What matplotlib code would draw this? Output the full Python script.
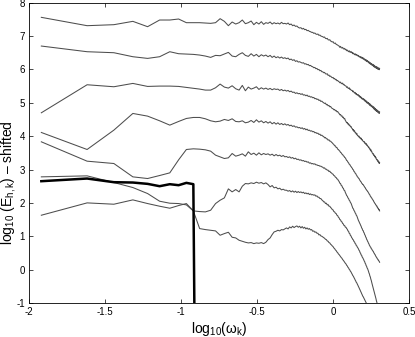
import numpy as np
import matplotlib
matplotlib.use('Agg')
import matplotlib.pyplot as plt

plt.rcParams['font.family'] = ['Liberation Sans', 'DejaVu Sans']
plt.rcParams['mathtext.fontset'] = 'custom'
plt.rcParams['mathtext.rm'] = 'Liberation Sans'
plt.rcParams['mathtext.it'] = 'Liberation Sans'
plt.rcParams['mathtext.default'] = 'regular'
plt.rcParams['axes.unicode_minus'] = False

# frequency grid: omega_k = k * d_omega, k = 1..168
d_omega = 0.012
k = np.arange(1, 169)

line1 = [7.56, 7.31, 7.34, 7.44, 7.28, 7.48, 7.48, 7.51, 7.40, 7.40,
         7.40, 7.39, 7.38, 7.40, 7.52, 7.44, 7.31, 7.42, 7.36, 7.40,
         7.48, 7.37, 7.40, 7.45, 7.34, 7.41, 7.36, 7.43, 7.35, 7.40,
         7.38, 7.42, 7.36, 7.40, 7.37, 7.39, 7.36, 7.41, 7.37, 7.38,
         7.36, 7.39, 7.34, 7.36, 7.31, 7.33, 7.29, 7.30, 7.26, 7.24,
         7.25, 7.21, 7.23, 7.19, 7.20, 7.16, 7.17, 7.14, 7.13, 7.11,
         7.11, 7.08, 7.09, 7.06, 7.05, 7.06, 7.02, 7.03, 7.00, 6.99,
         6.98, 6.96, 6.97, 6.93, 6.92, 6.93, 6.89, 6.88, 6.89, 6.85,
         6.84, 6.82, 6.83, 6.79, 6.78, 6.79, 6.75, 6.74, 6.73, 6.71,
         6.70, 6.66, 6.69, 6.65, 6.64, 6.66, 6.62, 6.61, 6.63, 6.59,
         6.60, 6.56, 6.58, 6.55, 6.53, 6.56, 6.52, 6.51, 6.54, 6.50,
         6.51, 6.47, 6.49, 6.46, 6.44, 6.47, 6.43, 6.45, 6.42, 6.43,
         6.40, 6.42, 6.38, 6.39, 6.36, 6.38, 6.34, 6.37, 6.33, 6.35,
         6.31, 6.34, 6.29, 6.31, 6.27, 6.30, 6.25, 6.28, 6.23, 6.26,
         6.22, 6.24, 6.19, 6.22, 6.17, 6.20, 6.15, 6.18, 6.13, 6.16,
         6.12, 6.15, 6.09, 6.13, 6.07, 6.11, 6.06, 6.09, 6.04, 6.08,
         6.03, 6.07, 6.01, 6.05, 6.00, 6.04, 5.99, 6.03]

line2 = [6.70, 6.53, 6.50, 6.38, 6.33, 6.38, 6.53, 6.47, 6.46, 6.45,
         6.43, 6.40, 6.36, 6.42, 6.41, 6.46, 6.51, 6.40, 6.38, 6.45,
         6.50, 6.42, 6.39, 6.47, 6.40, 6.45, 6.38, 6.44, 6.40, 6.43,
         6.38, 6.42, 6.36, 6.40, 6.35, 6.38, 6.34, 6.37, 6.33, 6.35,
         6.32, 6.34, 6.29, 6.31, 6.27, 6.29, 6.24, 6.26, 6.22, 6.23,
         6.21, 6.19, 6.20, 6.16, 6.17, 6.14, 6.15, 6.11, 6.12, 6.09,
         6.08, 6.05, 6.06, 6.02, 6.03, 5.99, 6.00, 5.96, 5.97, 5.93,
         5.93, 5.90, 5.91, 5.87, 5.86, 5.87, 5.82, 5.83, 5.79, 5.80,
         5.77, 5.75, 5.76, 5.72, 5.73, 5.69, 5.70, 5.66, 5.67, 5.64,
         5.63, 5.60, 5.62, 5.58, 5.57, 5.59, 5.54, 5.55, 5.52, 5.51,
         5.50, 5.46, 5.48, 5.44, 5.43, 5.45, 5.40, 5.41, 5.38, 5.37,
         5.37, 5.33, 5.35, 5.31, 5.29, 5.31, 5.26, 5.28, 5.24, 5.25,
         5.22, 5.24, 5.19, 5.21, 5.16, 5.19, 5.14, 5.16, 5.11, 5.13,
         5.10, 5.12, 5.07, 5.10, 5.04, 5.07, 5.02, 5.05, 4.99, 5.02,
         4.98, 5.01, 4.95, 4.98, 4.92, 4.96, 4.90, 4.93, 4.88, 4.91,
         4.86, 4.89, 4.83, 4.87, 4.80, 4.84, 4.78, 4.82, 4.76, 4.80,
         4.74, 4.78, 4.72, 4.76, 4.70, 4.74, 4.68, 4.72]

line3 = [4.70, 5.54, 5.48, 5.58, 5.49, 5.50, 5.50, 5.49, 5.46, 5.43,
         5.41, 5.38, 5.38, 5.45, 5.56, 5.47, 5.44, 5.51, 5.42, 5.38,
         5.52, 5.36, 5.47, 5.41, 5.44, 5.48, 5.40, 5.45, 5.41, 5.44,
         5.40, 5.43, 5.39, 5.42, 5.40, 5.41, 5.37, 5.40, 5.36, 5.38,
         5.35, 5.37, 5.33, 5.35, 5.31, 5.32, 5.28, 5.30, 5.27, 5.28,
         5.25, 5.27, 5.23, 5.24, 5.21, 5.23, 5.19, 5.20, 5.17, 5.18,
         5.15, 5.16, 5.12, 5.13, 5.10, 5.11, 5.07, 5.08, 5.04, 5.05,
         5.02, 5.00, 4.98, 4.99, 4.94, 4.95, 4.91, 4.92, 4.88, 4.89,
         4.85, 4.83, 4.82, 4.79, 4.80, 4.76, 4.77, 4.73, 4.74, 4.70,
         4.68, 4.64, 4.65, 4.60, 4.61, 4.56, 4.57, 4.52, 4.53, 4.47,
         4.44, 4.40, 4.41, 4.36, 4.37, 4.32, 4.33, 4.28, 4.29, 4.24,
         4.23, 4.18, 4.20, 4.14, 4.16, 4.10, 4.11, 4.06, 4.08, 4.02,
         4.02, 3.98, 4.00, 3.95, 3.96, 3.92, 3.94, 3.89, 3.90, 3.86,
         3.85, 3.83, 3.84, 3.79, 3.80, 3.76, 3.78, 3.73, 3.74, 3.70,
         3.70, 3.66, 3.67, 3.62, 3.63, 3.58, 3.60, 3.54, 3.55, 3.50,
         3.49, 3.46, 3.47, 3.42, 3.43, 3.38, 3.40, 3.35, 3.36, 3.31,
         3.29, 3.30, 3.25, 3.27, 3.22, 3.24, 3.18, 3.20]

line4 = [4.11, 3.60, 4.18, 4.68, 4.60, 4.46, 4.33, 4.44, 4.53, 4.56,
         4.56, 4.52, 4.46, 4.43, 4.45, 4.50, 4.47, 4.52, 4.44, 4.43,
         4.46, 4.40, 4.42, 4.47, 4.41, 4.49, 4.42, 4.46, 4.40, 4.44,
         4.39, 4.43, 4.37, 4.41, 4.36, 4.40, 4.35, 4.38, 4.34, 4.37,
         4.33, 4.35, 4.31, 4.33, 4.29, 4.31, 4.27, 4.28, 4.25, 4.26,
         4.23, 4.25, 4.21, 4.23, 4.19, 4.21, 4.17, 4.18, 4.15, 4.16,
         4.13, 4.14, 4.10, 4.11, 4.08, 4.09, 4.05, 4.06, 4.02, 4.03,
         4.00, 3.99, 3.95, 3.96, 3.92, 3.92, 3.88, 3.89, 3.85, 3.85,
         3.82, 3.80, 3.77, 3.75, 3.71, 3.71, 3.66, 3.66, 3.61, 3.60,
         3.57, 3.55, 3.51, 3.50, 3.46, 3.45, 3.41, 3.40, 3.36, 3.35,
         3.31, 3.27, 3.26, 3.22, 3.20, 3.16, 3.15, 3.11, 3.09, 3.06,
         3.04, 3.00, 2.99, 2.94, 2.93, 2.89, 2.88, 2.84, 2.82, 2.78,
         2.77, 2.74, 2.73, 2.69, 2.67, 2.64, 2.63, 2.59, 2.58, 2.55,
         2.55, 2.52, 2.50, 2.47, 2.46, 2.42, 2.41, 2.38, 2.37, 2.34,
         2.33, 2.30, 2.28, 2.25, 2.24, 2.20, 2.19, 2.16, 2.15, 2.12,
         2.11, 2.08, 2.07, 2.03, 2.02, 1.99, 1.98, 1.95, 1.94, 1.91,
         1.91, 1.87, 1.87, 1.83, 1.83, 1.79, 1.80, 1.76]

line5 = [3.83, 3.25, 3.18, 2.78, 2.73, 2.82, 2.90, 3.29, 3.60, 3.62,
         3.61, 3.59, 3.55, 3.43, 3.38, 3.33, 3.35, 3.48, 3.40, 3.43,
         3.47, 3.40, 3.53, 3.45, 3.49, 3.43, 3.50, 3.44, 3.48, 3.45,
         3.47, 3.43, 3.46, 3.41, 3.45, 3.41, 3.43, 3.39, 3.42, 3.38,
         3.39, 3.36, 3.38, 3.34, 3.36, 3.32, 3.34, 3.30, 3.31, 3.28,
         3.29, 3.26, 3.27, 3.24, 3.25, 3.22, 3.23, 3.19, 3.20, 3.17,
         3.18, 3.16, 3.17, 3.14, 3.14, 3.12, 3.12, 3.10, 3.10, 3.08,
         3.07, 3.04, 3.05, 3.01, 3.01, 2.98, 2.98, 2.94, 2.95, 2.91,
         2.90, 2.87, 2.86, 2.82, 2.81, 2.77, 2.76, 2.72, 2.71, 2.67,
         2.64, 2.59, 2.58, 2.52, 2.51, 2.45, 2.44, 2.38, 2.37, 2.31,
         2.27, 2.22, 2.20, 2.15, 2.13, 2.08, 2.06, 2.01, 1.99, 1.94,
         1.89, 1.84, 1.82, 1.77, 1.75, 1.70, 1.68, 1.63, 1.61, 1.56,
         1.51, 1.47, 1.44, 1.40, 1.37, 1.33, 1.30, 1.25, 1.23, 1.18,
         1.17, 1.12, 1.10, 1.05, 1.03, 0.98, 0.96, 0.91, 0.89, 0.85,
         0.83, 0.79, 0.77, 0.73, 0.71, 0.68, 0.67, 0.63, 0.62, 0.59,
         0.58, 0.55, 0.54, 0.50, 0.49, 0.46, 0.45, 0.41, 0.40, 0.37,
         0.36, 0.33, 0.32, 0.29, 0.29, 0.26, 0.25, 0.22]

line6 = [2.78, 2.81, 2.61, 2.46, 2.28, 2.05, 1.99, 1.98, 1.94, 1.76,
         1.23, 1.20, 1.18, 1.16, 1.03, 1.08, 1.12, 0.97, 0.95, 0.88,
         0.85, 0.82, 0.80, 0.81, 0.78, 0.80, 0.79, 0.81, 0.78, 0.82,
         0.90, 0.95, 1.05, 1.13, 1.15, 1.18, 1.16, 1.20, 1.19, 1.22,
         1.25, 1.22, 1.28, 1.25, 1.30, 1.26, 1.29, 1.31, 1.27, 1.30,
         1.25, 1.29, 1.24, 1.27, 1.22, 1.25, 1.21, 1.23, 1.19, 1.20,
         1.15, 1.16, 1.12, 1.13, 1.09, 1.09, 1.04, 1.05, 1.01, 1.00,
         0.98, 0.96, 0.94, 0.91, 0.90, 0.86, 0.85, 0.81, 0.80, 0.76,
         0.74, 0.71, 0.69, 0.65, 0.63, 0.59, 0.57, 0.53, 0.51, 0.47,
         0.45, 0.42, 0.39, 0.36, 0.34, 0.30, 0.28, 0.25, 0.22, 0.19,
         0.17, 0.13, 0.11, 0.07, 0.05, 0.01, -0.01, -0.05, -0.07, -0.11,
         -0.14, -0.18, -0.20, -0.24, -0.27, -0.31, -0.34, -0.38, -0.40, -0.44,
         -0.47, -0.51, -0.54, -0.58, -0.61, -0.65, -0.68, -0.72, -0.75, -0.79,
         -0.81, -0.84, -0.87, -0.90, -0.93, -0.96, -0.99, -1.02, -1.05, -1.08,
         -1.12, -1.15, -1.19, -1.22, -1.26, -1.29, -1.33, -1.36, -1.40, -1.43,
         -1.47, -1.50, -1.54, -1.57, -1.61, -1.64, -1.68, -1.71, -1.75, -1.78,
         -1.82, -1.85, -1.89, -1.92, -1.96, -1.99, -2.03, -2.06]

line7 = [1.63, 2.00, 1.96, 2.09, 1.98, 1.90, 1.84, 1.92, 1.98, 1.76,
         1.74, 1.73, 1.78, 1.98, 2.08, 2.15, 2.42, 2.33, 2.40, 2.33,
         2.50, 2.58, 2.57, 2.60, 2.58, 2.62, 2.59, 2.61, 2.57, 2.60,
         2.55, 2.48, 2.52, 2.45, 2.47, 2.42, 2.44, 2.39, 2.41, 2.38,
         2.38, 2.35, 2.37, 2.33, 2.36, 2.32, 2.35, 2.31, 2.34, 2.31,
         2.33, 2.30, 2.32, 2.28, 2.30, 2.27, 2.29, 2.25, 2.27, 2.24,
         2.25, 2.23, 2.24, 2.20, 2.21, 2.17, 2.17, 2.13, 2.13, 2.09,
         2.07, 2.03, 2.03, 1.98, 1.99, 1.94, 1.95, 1.90, 1.90, 1.86,
         1.84, 1.80, 1.79, 1.74, 1.73, 1.69, 1.68, 1.63, 1.62, 1.57,
         1.55, 1.50, 1.49, 1.44, 1.43, 1.38, 1.37, 1.32, 1.32, 1.27,
         1.27, 1.23, 1.21, 1.16, 1.15, 1.09, 1.08, 1.02, 1.01, 0.96,
         0.94, 0.90, 0.89, 0.84, 0.83, 0.78, 0.77, 0.72, 0.71, 0.67,
         0.65, 0.62, 0.58, 0.56, 0.51, 0.49, 0.44, 0.43, 0.38, 0.36,
         0.33, 0.30, 0.26, 0.24, 0.19, 0.17, 0.12, 0.10, 0.05, 0.03,
         -0.01, -0.05, -0.10, -0.13, -0.19, -0.22, -0.28, -0.32, -0.38, -0.43,
         -0.48, -0.53, -0.57, -0.63, -0.67, -0.73, -0.77, -0.83, -0.87, -0.93,
         -0.97, -1.03, -1.08, -1.14, -1.19, -1.25, -1.30, -1.36]

# thick curve: only the first 10 modes are non-zero, then it collapses
thick = [2.65, 2.73, 2.62, 2.61, 2.57, 2.50, 2.56, 2.53, 2.60, 2.56, -20.0]

xticks = [-2, -1.5, -1, -0.5, 0, 0.5]
xticklabels = ['-2', '-1.5', '-1', '-0.5', '0', '0.5']
yticks = [-1, 0, 1, 2, 3, 4, 5, 6, 7, 8]


def main():
    logw = np.log10(k * d_omega)

    fig = plt.figure(figsize=(4.15, 3.37), dpi=100)
    ax = fig.add_axes([0.0706, 0.1009, 0.9157, 0.8912])

    for y in [line1, line2, line3, line4, line5, line6, line7]:
        ax.plot(logw[:len(y)], y, color='0.3', lw=0.75)
    ax.plot(logw[:len(thick)], thick, color='black', lw=1.8)

    ax.set_xlim(-2, 0.5)
    ax.set_ylim(-1, 8)
    ax.set_xticks(xticks)
    ax.set_xticklabels(xticklabels)
    ax.set_yticks(yticks)
    ax.tick_params(direction='in', length=3, width=0.5, labelsize=7,
                   top=True, right=True, pad=3)
    for s in ax.spines.values():
        s.set_linewidth(0.6)

    ax.set_xlabel(r'$log_{10}(\omega_k)$', fontsize=10, labelpad=2)
    ax.set_ylabel(r'$log_{10}\ (E_{h,k})$ – shifted', fontsize=10)
    ax.yaxis.set_label_coords(-0.03, 0.40)

    fig.savefig('out.png', dpi=100)


if __name__ == '__main__':
    main()
